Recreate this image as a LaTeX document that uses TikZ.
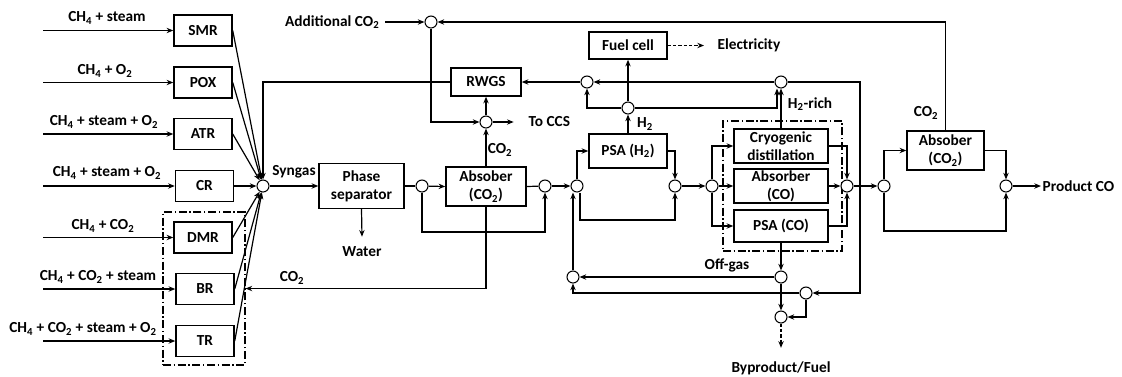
\documentclass[tikz,border=0pt]{standalone}
\usepackage{fontspec}
\setmainfont{Carlito}
\usetikzlibrary{arrows.meta}
\newcommand\sbs[1]{\textsubscript{#1}}
\begin{document}
\begin{tikzpicture}[x=0.75pt,y=-0.75pt,
  font=\bfseries\fontsize{11.5}{13.5}\selectfont,
  box/.style={draw,line width=1.1pt,inner sep=1pt,align=center},
  rbox/.style={box,minimum width=43.5pt,minimum height=23.25pt},
  mixer/.style={circle,draw,line width=0.8pt,minimum size=9pt,inner sep=0pt,fill=white},
  arr/.style={line width=0.9pt,-{Stealth[length=5pt,width=4pt]}},
  ln/.style={line width=0.9pt},
  grpbox/.style={draw,line width=0.8pt,dash pattern=on 6pt off 2pt on 1pt off 2pt,inner sep=0pt},
  lbl/.style={inner sep=1pt}]
\useasboundingbox (0,0) rectangle (1122,376);
% group boxes
\node[grpbox,minimum width=61.5pt,minimum height=114.75pt] (grpA) at (204,288.5) {};
\node[grpbox,minimum width=89.25pt,minimum height=97.5pt] (grpB) at (782.5,186) {};
% reactors
\node[rbox] (smr) at (203,30.5) {SMR};
\node[rbox] (pox) at (203,82.5) {POX};
\node[rbox] (atr) at (203,134) {ATR};
\node[rbox] (cr) at (204.5,186) {CR};
\node[rbox] (dmr) at (203,237.5) {DMR};
\node[rbox] (br) at (205,289) {BR};
\node[rbox] (tr) at (205,341) {TR};
\foreach \n/\y in {1/30.5,2/82.5,3/134,4/186,5/237.5,6/289,7/341}
  \coordinate (i\n) at (43,\y);
\draw[arr] (i1) -- (smr.west);
\draw[arr] (i2) -- (pox.west);
\draw[arr] (i3) -- (atr.west);
\draw[arr] (i4) -- (cr.west);
\draw[arr] (i5) -- (dmr.west);
\draw[arr] (i6) -- (br.west);
\draw[arr] (i7) -- (tr.west);
\node[lbl] (t1) at (107,18) {CH\sbs{4} + steam};
\node[lbl] (t2) at (105,71) {CH\sbs{4} + O\sbs{2}};
\node[lbl] (t3) at (104,122) {CH\sbs{4} + steam + O\sbs{2}};
\node[lbl] (t4) at (107,173) {CH\sbs{4} + steam + O\sbs{2}};
\node[lbl] (t5) at (103,226) {CH\sbs{4} + CO\sbs{2}};
\node[lbl] (t6) at (98,277) {CH\sbs{4} + CO\sbs{2} + steam};
\node[lbl] (t7) at (83,329) {CH\sbs{4} + CO\sbs{2} + steam + O\sbs{2}};
% syngas mixer
\node[mixer] (mix) at (263,186) {};
\foreach \r in {smr,pox,atr,cr,dmr,br,tr} \draw[arr] (\r.east) -- (mix);
\node[lbl] (syn) at (294,172) {Syngas};
\node[box,minimum width=63.75pt,minimum height=33.75pt] (ps) at (361.5,186) {Phase\\separator};
\draw[arr] (mix) -- (ps.west);
\node[lbl] (water) at (362,252) {Water};
\draw[arr] (ps.south) -- ([yshift=6.5pt]water.north);
% absorber 1
\node[mixer] (c1) at (422,186) {};
\node[box,minimum width=60pt,minimum height=29.25pt] (abs1) at (486,186.5) {Absober\\(CO\sbs{2})};
\node[mixer] (c2) at (545,186) {};
\node[mixer] (c3) at (577,186) {};
\draw[ln] (ps.east) -- (c1);
\draw[arr] (c1) -- (abs1.west);
\coordinate (b1) at (422,232);
\draw[arr] (c1) -- (b1) -| (c2);
\draw[ln] (abs1.east) -- (c2);
\draw[arr] (c2) -- (c3);
\draw[arr] (abs1.south) |- (grpA.east);
\node[lbl] (co2r) at (292,278) {CO\sbs{2}};
% RWGS / CCS
\node[box,minimum width=52.5pt,minimum height=21pt] (rwgs) at (486,82) {RWGS};
\node[mixer] (cccs) at (486,122) {};
\node[mixer] (cadd) at (431,22) {};
\node[lbl,anchor=east] (addc) at (381,22) {Additional CO\sbs{2}};
\draw[arr] ([xshift=3pt]addc.east) -- (cadd);
\draw[arr] (cadd) |- (cccs);
\draw[arr] (abs1.north) -- (cccs);
\node[lbl] (co2a) at (500,150) {CO\sbs{2}};
\draw[arr] (cccs) -- (rwgs.south);
\node[lbl,anchor=west] (ccs) at (527,122) {To CCS};
\draw[arr] (cccs) -- ([xshift=-10pt]ccs.west);
\draw[arr] (rwgs.west) -| (mix);
% H2 section
\node[box,minimum width=58.5pt,minimum height=25.5pt] (psah2) at (628,151) {PSA (H\sbs{2})};
\node[box,minimum width=58.5pt,minimum height=20.25pt] (fc) at (628,45.5) {Fuel cell};
\node[lbl,anchor=west] (elec) at (716,45.5) {Electricity};
\draw[arr,dash pattern=on 2.5pt off 1.5pt] (fc.east) -- ([xshift=-9pt]elec.west);
\node[mixer] (c4) at (587,82) {};
\node[mixer] (c5) at (628,108) {};
\node[mixer] (c6) at (781,82) {};
\draw[arr] (c4) -- (rwgs.east);
\draw[arr] (c6) -- (c4);
\draw[arr] (c5) -| (c4);
\draw[arr] (psah2.north) -- (c5);
\node[lbl] (h2) at (645,124) {H\sbs{2}};
\draw[arr] (c5) -- (fc.south);
\draw[arr] (c5) -| ([xshift=-3pt]c6.south);
\draw[arr] (c3) |- (psah2.west);
\node[mixer] (c11) at (675,186) {};
\node[mixer] (c12) at (712,186) {};
\draw[arr] (psah2.east) -| (c11);
\coordinate (b3) at (580,220);
\draw[arr] ([xshift=2.25pt]c3.south) -- (b3) -| (c11);
\draw[arr] (c11) -- (c12);
% CO separation
\node[box,minimum width=70.5pt,minimum height=25.5pt] (cryo) at (781,146) {Cryogenic\\distillation};
\node[box,minimum width=70.5pt,minimum height=25.5pt] (absco) at (781,186) {Absorber\\(CO)};
\node[box,minimum width=70.5pt,minimum height=24pt] (psaco) at (781,226) {PSA (CO)};
\draw[arr] (c12) |- (cryo.west);
\draw[arr] (c12) -- (absco.west);
\draw[arr] (c12) |- (psaco.west);
\draw[arr] (cryo.north) -- (c6);
\node[lbl] (h2r) at (810,104) {H\sbs{2}-rich};
\node[mixer] (c13) at (847,186) {};
\node[mixer] (c14) at (884,186) {};
\draw[arr] (cryo.east) -| (c13);
\draw[arr] (absco.east) -- (c13);
\draw[arr] (psaco.east) -| (c13);
\draw[arr] (c13) -- (c14);
% off-gas
\node[mixer] (c7) at (781,277) {};
\node[mixer] (c8) at (806,293) {};
\node[mixer] (c9) at (781,317) {};
\node[mixer] (c10) at (573,277) {};
\draw[arr] (psaco.south) -- (c7);
\node[lbl] (offg) at (727,265) {Off-gas};
\draw[arr] (c7) -- (c10);
\draw[arr] (c7) -- (c9);
\coordinate (k1) at (860,82);
\draw[arr] (c6) -- (k1) |- (c8);
\draw[arr] (c8) |- (c9);
\draw[arr] (c8) -| (c10);
\draw[arr] (c10) -- (c10 |- c3.south);
\node[lbl] (byp) at (781,368) {Byproduct/Fuel};
\draw[arr,dash pattern=on 2.5pt off 1.5pt] (c9) -- ([yshift=9pt]byp.north);
% absorber 2
\node[box,minimum width=57.75pt,minimum height=29.25pt] (abs2) at (945.5,150.5) {Absober\\(CO\sbs{2})};
\node[mixer] (c15) at (1006,186) {};
\draw[arr] (c14) |- (abs2.west);
\coordinate (b14) at (884,231);
\draw[arr] (c14) -- (b14) -| (c15);
\draw[arr] (abs2.east) -| (c15);
\draw[arr] (abs2.north) |- (cadd);
\node[lbl] (co2b) at (926,113) {CO\sbs{2}};
\node[lbl,anchor=west] (prod) at (1041,186) {Product CO};
\draw[arr] (c15) -- (prod.west);
\end{tikzpicture}
\end{document}
